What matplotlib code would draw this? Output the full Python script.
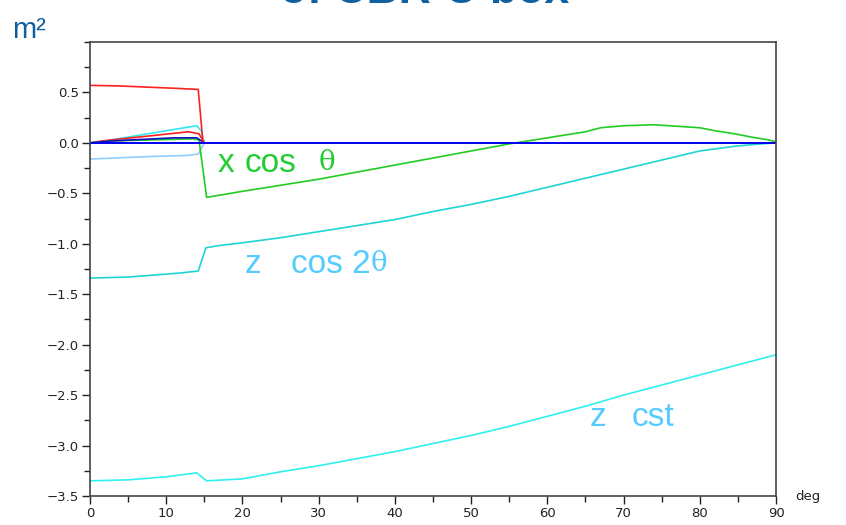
import numpy as np
import matplotlib.pyplot as plt
from matplotlib.ticker import MultipleLocator

plt.rcParams['font.family'] = ['Liberation Sans', 'DejaVu Sans']

# red, upper curve (0..15 deg)
red_x = [0, 3.7, 11.5, 14.2, 14.8, 15.0]
red_y = [0.57, 0.565, 0.54, 0.53, 0.02, 0.0]
# small red
red2_x = [0, 1.7, 12.9, 14.3, 15.0]
red2_y = [0.0, 0.02, 0.11, 0.09, 0.0]
# small cyan
cyan2_x = [0, 2, 14.0, 14.6, 15.0]
cyan2_y = [0.0, 0.02, 0.17, 0.12, 0.0]
# small dark blue
blue2_x = [0, 3, 11, 14.0, 15.0]
blue2_y = [0.0, 0.02, 0.05, 0.05, 0.0]
# light blue
lb_x = [0, 7.9, 12.7, 14.2, 15.0]
lb_y = [-0.16, -0.135, -0.125, -0.11, 0.0]
# green, x cos theta
green_x = [0, 3, 13.5, 14.3, 15.3, 20, 25, 30, 35, 40, 45, 50, 55, 60, 65,
           67, 70, 74, 76, 80, 82, 84.6, 86.6, 89, 90]
green_y = [0.0, 0.02, 0.04, 0.03, -0.54, -0.48, -0.42, -0.36, -0.29, -0.22,
           -0.15, -0.08, -0.01, 0.05, 0.11, 0.15, 0.17, 0.18, 0.17, 0.15,
           0.12, 0.09, 0.06, 0.03, 0.01]
# cyan, z cos 2theta
c2_x = [0, 5, 11.8, 14.2, 15.2, 16.7, 20, 25, 30, 35, 40, 45, 50, 55, 60,
        65, 70, 75, 80, 85, 88, 90]
c2_y = [-1.34, -1.33, -1.29, -1.27, -1.04, -1.02, -0.99, -0.94, -0.88,
        -0.82, -0.76, -0.68, -0.61, -0.53, -0.44, -0.35, -0.26, -0.17,
        -0.08, -0.03, -0.01, 0.0]
# cyan, z cst
cst_x = [0, 5, 10, 14, 15.3, 20, 25, 30, 35, 40, 45, 50, 55, 60, 65, 70,
         75, 80, 85, 90]
cst_y = [-3.35, -3.34, -3.31, -3.27, -3.35, -3.33, -3.26, -3.20, -3.13,
         -3.06, -2.98, -2.90, -2.81, -2.71, -2.61, -2.50, -2.40, -2.30,
         -2.20, -2.10]
# zero line
zero_x = [0, 90]
zero_y = [0.0, 0.0]

yticks = np.arange(-3.5, 0.51, 0.5)
ylabels = ['%.1f' % v if v >= 0 else '\u2212%.1f' % -v for v in yticks]

fig = plt.figure(figsize=(8.46, 5.25), dpi=100)
ax = fig.add_axes([90/846, 1-496/525, 686/846, 454/525])

lw = 1.2
ax.plot(cst_x, cst_y, color='#30f0f0', lw=lw)
ax.plot(c2_x, c2_y, color='#20d4d4', lw=lw)
ax.plot(lb_x, lb_y, color='#90ccff', lw=lw)
ax.plot(cyan2_x, cyan2_y, color='#30e8f0', lw=lw)
ax.plot(red2_x, red2_y, color='#ff2020', lw=lw)
ax.plot(green_x, green_y, color='#22cc22', lw=lw)
ax.plot(blue2_x, blue2_y, color='#1010c0', lw=lw)
ax.plot(red_x, red_y, color='#ff2020', lw=lw)
ax.plot(zero_x, zero_y, color='#0000ee', lw=1.4)

ax.set_xlim(0, 90)
ax.set_ylim(-3.5, 1.0)
ax.set_xticks(np.arange(0, 91, 10))
ax.set_yticks(yticks)
ax.set_yticklabels(ylabels)
ax.xaxis.set_minor_locator(MultipleLocator(5))
ax.yaxis.set_minor_locator(MultipleLocator(0.25))
ax.tick_params(which='major', direction='out', length=6, width=1,
               colors='#222222', pad=2)
ax.tick_params(which='minor', direction='out', length=4, width=1,
               colors='#222222')
for lab in ax.get_xticklabels() + ax.get_yticklabels():
    lab.set_family('DejaVu Sans')
    lab.set_fontsize(9.5)
for s in ax.spines.values():
    s.set_color('#444444')
    s.set_linewidth(1.2)

# annotations
green_t = '#22cc33'
blue_t = '#55ccff'
ax.text(16.7, -0.2, 'x', color=green_t, fontsize=24, va='center')
ax.text(20.3, -0.2, 'cos', color=green_t, fontsize=24, va='center')
ax.text(30.0, -0.19, '\u03b8', color=green_t, fontsize=20, va='center',
        family='DejaVu Serif')
ax.text(20.3, -1.21, 'z', color=blue_t, fontsize=24, va='center')
ax.text(26.4, -1.21, 'cos 2', color=blue_t, fontsize=24, va='center')
ax.text(36.8, -1.2, '\u03b8', color=blue_t, fontsize=20, va='center',
        family='DejaVu Serif')
ax.text(65.6, -2.72, 'z', color=blue_t, fontsize=24, va='center')
ax.text(71.1, -2.72, 'cst', color=blue_t, fontsize=24, va='center')

fig.text(12/846, 1-38/525, 'm\u00b2', color='#1060a0', fontsize=21,
         va='baseline')
fig.text(795/846, 1-500/525, 'deg', color='#222222', fontsize=9.5,
         va='baseline', family='DejaVu Sans')
fig.text(425/846, 1-3/525, 'of CBR-U box', color='#1060a0', fontsize=32,
         fontweight='bold', ha='center', va='baseline')

fig.savefig('out.png', dpi=100)
